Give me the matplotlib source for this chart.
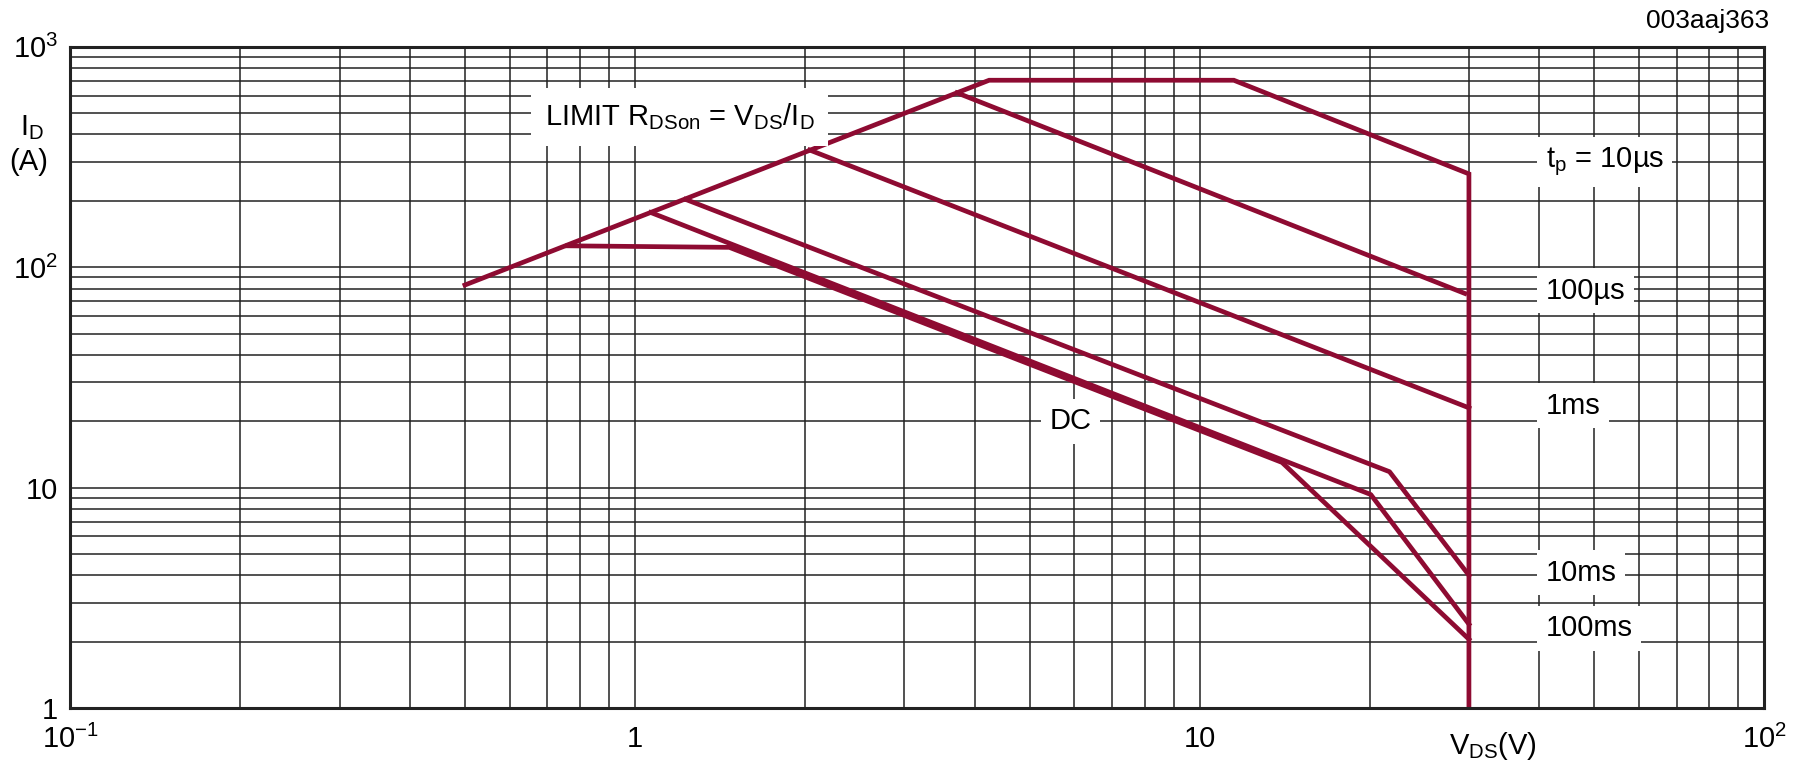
import matplotlib.pyplot as plt
from matplotlib.ticker import FixedLocator, FixedFormatter, LogLocator, NullFormatter

plt.rcParams['font.family'] = ['Liberation Sans', 'DejaVu Sans']
plt.rcParams['mathtext.default'] = 'regular'

RED = '#8e0b32'

# limit line R_DSon + tp = 10us curve, down the 30 V wall
limit_v = [0.5, 4.24, 11.5, 30, 30]
limit_i = [83, 705, 705, 265, 1]
# other pulse curves
us100_v = [3.72, 29.5]
us100_i = [618, 76]
ms1_v = [2.04, 30]
ms1_i = [340, 23]
ms10_v = [1.23, 21.7, 30]
ms10_i = [203, 11.8, 4.0]
ms100_v = [1.067, 20.1, 30]
ms100_i = [177, 9.3, 2.4]
dc_v = [0.76, 1.47, 14.0, 30]
dc_i = [125, 123, 13.0, 2.05]

curve_labels = [r"t$_p$ = 10µs", "100µs", "1ms", "10ms", "100ms"]
curve_label_i = [300, 78, 23.5, 4.1, 2.3]

fig = plt.figure(figsize=(18.02, 7.67), dpi=100)
ax = fig.add_axes([0.039, 0.077, 0.940, 0.862])
ax.set_xscale('log')
ax.set_yscale('log')
ax.set_xlim(0.1, 100)
ax.set_ylim(1, 1000)

ax.grid(which='both', color='#222222', lw=1.1)
ax.set_axisbelow(True)
for s in ax.spines.values():
    s.set_linewidth(2.2)
    s.set_color('#222222')

ax.xaxis.set_major_locator(FixedLocator([0.1, 1, 10, 100]))
ax.xaxis.set_major_formatter(FixedFormatter([r"10$^{-1}$", "1", "10", r"10$^2$"]))
ax.xaxis.set_minor_locator(LogLocator(base=10, subs=range(2, 10)))
ax.xaxis.set_minor_formatter(NullFormatter())
ax.yaxis.set_major_locator(FixedLocator([1, 10, 100, 1000]))
ax.yaxis.set_major_formatter(FixedFormatter(["1", "10", r"10$^2$", r"10$^3$"]))
ax.yaxis.set_minor_locator(LogLocator(base=10, subs=range(2, 10)))
ax.yaxis.set_minor_formatter(NullFormatter())
ax.tick_params(which='both', length=0, labelsize=21)
ax.tick_params(axis='x', pad=12)
ax.tick_params(axis='y', pad=9)

lw = 3.4
ax.plot(limit_v, limit_i, color=RED, lw=lw, solid_joinstyle='miter')
ax.plot(us100_v, us100_i, color=RED, lw=lw)
ax.plot(ms1_v, ms1_i, color=RED, lw=lw)
ax.plot(ms10_v, ms10_i, color=RED, lw=lw)
ax.plot(ms100_v, ms100_i, color=RED, lw=lw)
ax.plot(dc_v, dc_i, color=RED, lw=lw)

box = dict(facecolor='white', edgecolor='none', pad=6)
for lab, yi in zip(curve_labels, curve_label_i):
    ax.text(41, yi, lab, fontsize=21, ha='left', va='center', bbox=box)
ax.text(5.9, 20, "DC", fontsize=21, ha='center', va='center', bbox=box)
ax.text(1.2, 480, r"LIMIT R$_{DSon}$ = V$_{DS}$/I$_D$", fontsize=21,
        ha='center', va='center', bbox=dict(facecolor='white', edgecolor='none', pad=10))

fig.text(0.018, 0.834, r"I$_D$", fontsize=21, ha='center', va='center')
fig.text(0.016, 0.789, "(A)", fontsize=21, ha='center', va='center')
fig.text(0.8285, 0.027, r"V$_{DS}$(V)", fontsize=21, ha='center', va='center')
fig.text(0.982, 0.973, "003aaj363", fontsize=19, ha='right', va='center')

plt.savefig("out.png", dpi=100)
